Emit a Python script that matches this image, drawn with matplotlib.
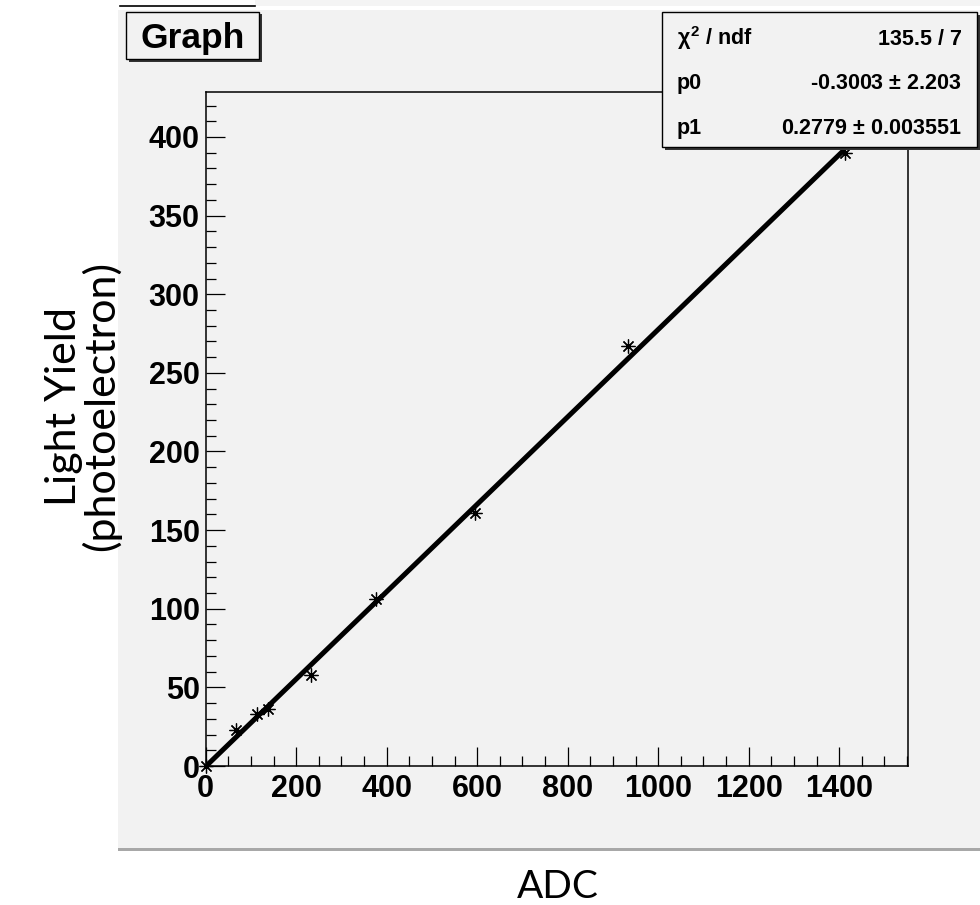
import matplotlib
matplotlib.use("Agg")
import matplotlib.pyplot as plt
from matplotlib.patches import Rectangle
from matplotlib.ticker import MultipleLocator
import numpy as np

# ---- data ----
adc = [0, 68, 113, 138, 233, 376, 595, 933, 1412]
light_yield = [0, 22.9, 33.1, 36.0, 57.9, 106.2, 161.1, 267.0, 389.6]
p0, p0_err = -0.3003, 2.203
p1, p1_err = 0.2779, 0.003551
chi2_label = "135.5 / 7"
title_text = "Graph"
x_label = "ADC"
y_label = "Light Yield\n(photoelectron)"
x_ticks = [0, 200, 400, 600, 800, 1000, 1200, 1400]
y_ticks = [0, 50, 100, 150, 200, 250, 300, 350, 400]

W, H = 980, 905
DPI = 100
GREY = "#f2f2f2"
BOLD = "Liberation Sans"

plt.rcParams["mathtext.fontset"] = "custom"
plt.rcParams["mathtext.rm"] = "Liberation Sans:bold"
plt.rcParams["mathtext.it"] = "Liberation Sans:bold"
plt.rcParams["mathtext.bf"] = "Liberation Sans:bold"

fig = plt.figure(figsize=(W / DPI, H / DPI), dpi=DPI)
fig.patch.set_facecolor("white")

def px_axes(z):
    a = fig.add_axes([0, 0, 1, 1], zorder=z)
    a.set_xlim(0, W)
    a.set_ylim(H, 0)
    a.axis("off")
    a.patch.set_alpha(0)
    return a

bg = px_axes(0)
# canvas
bg.add_patch(Rectangle((118, 10), W - 118, 838, facecolor=GREY, edgecolor="none"))
bg.add_patch(Rectangle((118, 848), W - 118, 3, facecolor="#a8a8a8", edgecolor="none"))
bg.add_patch(Rectangle((255, 0), W - 255, 6, facecolor="#f4f4f4", edgecolor="none"))
bg.plot([120, 255], [6, 6], color="black", lw=1.2)

# main axes
x0, x1, yb, yt = 205.7, 908.0, 766.0, 92.3
ax = fig.add_axes([x0 / W, (H - yb) / H, (x1 - x0) / W, (yb - yt) / H], zorder=2)
ax.set_facecolor(GREY)
ax.set_xlim(0, 1552)
ax.set_ylim(0, (yb - yt) / 1.5725)
for s in ax.spines.values():
    s.set_linewidth(1.1)
    s.set_color("black")

ax.set_xticks(x_ticks)
ax.set_yticks(y_ticks)
ax.xaxis.set_minor_locator(MultipleLocator(50))
ax.yaxis.set_minor_locator(MultipleLocator(10))
ax.tick_params(which="both", direction="in", top=False, right=False, width=0.9, color="black")
ax.tick_params(which="major", length=13.7)
ax.tick_params(which="minor", length=7.2)
ax.tick_params(axis="x", which="major", pad=6.0)
ax.tick_params(axis="y", which="major", pad=4.3)
for lab in ax.get_xticklabels() + ax.get_yticklabels():
    lab.set_fontfamily(BOLD)
    lab.set_fontweight("bold")
    lab.set_fontsize(22)

xf = np.array([min(adc), max(adc)])
ax.plot(xf, p0 + p1 * xf, color="black", lw=3.6, solid_capstyle="butt", zorder=3)
ax.plot(adc, light_yield, linestyle="none", marker=(8, 2, 0), markersize=10,
        markeredgewidth=0.9, color="black", zorder=4, clip_on=False)

fg = px_axes(5)
# title box with shadow
fg.add_patch(Rectangle((129, 14.5), 133, 47.3, facecolor="#333333", edgecolor="none"))
fg.add_patch(Rectangle((126, 11.7), 133, 47.3, facecolor=GREY, edgecolor="black", lw=1.0))
fg.text(140, 48.3, title_text, fontfamily=BOLD, fontweight="bold", fontsize=25.5,
        ha="left", va="baseline")

# stats box with shadow
bx0, by0, bx1, by1 = 662, 11.7, 977, 146.7
fg.add_patch(Rectangle((bx0 + 3, by0 + 3), bx1 - bx0, by1 - by0, facecolor="#333333", edgecolor="none"))
fg.add_patch(Rectangle((bx0, by0), bx1 - bx0, by1 - by0, facecolor=GREY, edgecolor="black", lw=1.0))
rows = [(r"$\chi^{2}$ / ndf", chi2_label, 45),
        ("p0", f"{p0:.4f} $\\pm$ {p0_err:.3f}", 89.3),
        ("p1", f"{p1:.4f} $\\pm$ {p1_err:.6f}", 134.3)]
for left, right, yb_ in rows:
    fg.text(676.7, yb_, left, fontfamily=BOLD, fontweight="bold", fontsize=15.5,
            ha="left", va="baseline")
    fg.text(962, yb_, right, fontfamily=BOLD, fontweight="bold", fontsize=15.5,
            ha="right", va="baseline")

# axis titles (outside the canvas)
fg.text(558, 898, x_label, fontfamily="Lato", fontsize=28, ha="center", va="baseline")
fg.text(83, 406, y_label, fontfamily="Lato", fontsize=31, rotation=90,
        ha="center", va="center", multialignment="center", linespacing=0.92)

fig.savefig("out.png", dpi=DPI, facecolor="white")
